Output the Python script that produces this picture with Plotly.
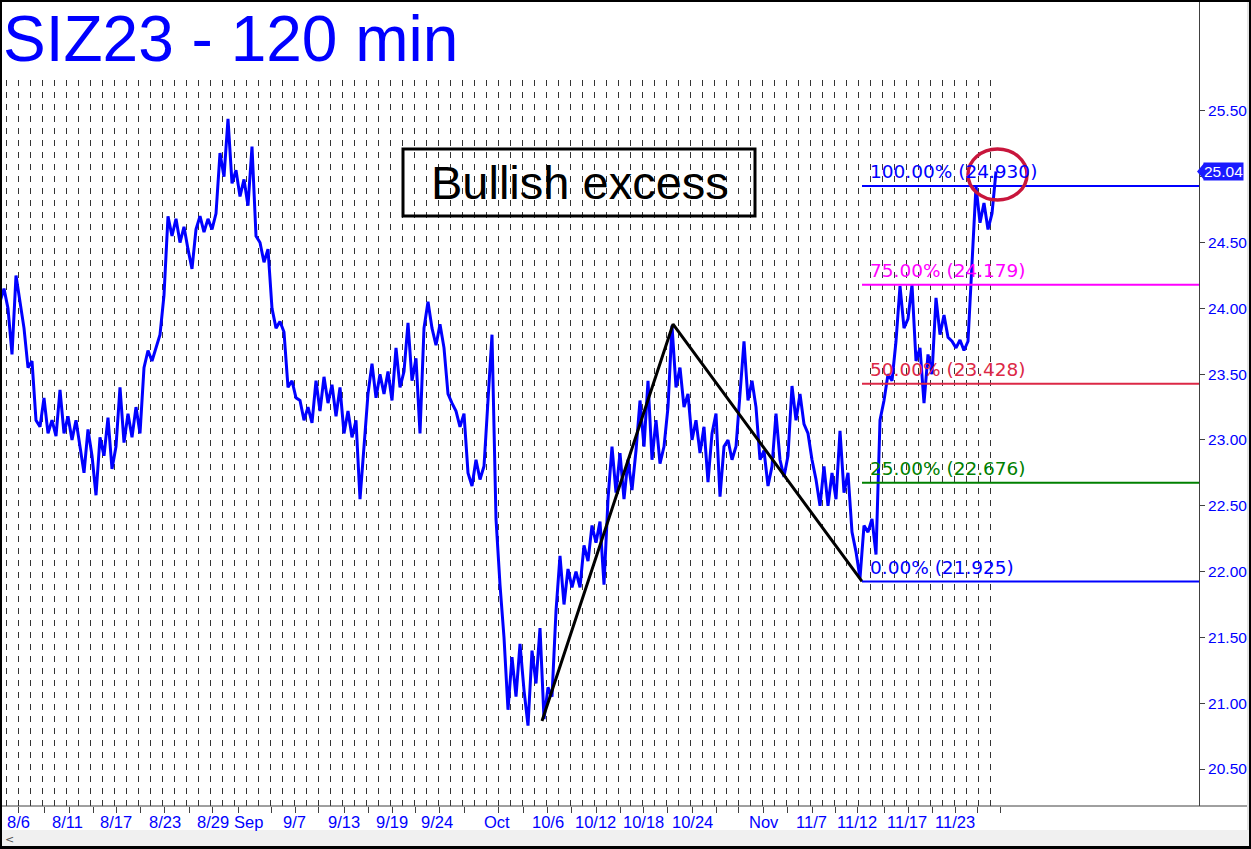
import plotly.graph_objects as go

# ---------------- data ----------------
# 120-min closes sampled every 4 bars, bar index = x
bar_step = 4
prices = [
    24.05, 24.15, 24.00, 23.65, 24.25, 24.05, 23.85, 23.55, 23.60, 23.15,
    23.10, 23.32, 23.05, 23.15, 23.03, 23.38, 23.05, 23.18, 23.00, 23.15,
    22.95, 22.75, 23.08, 22.88, 22.58, 23.02, 22.88, 23.17, 22.78, 22.95,
    23.40, 22.98, 23.20, 23.02, 23.25, 23.05, 23.55, 23.68, 23.60, 23.70,
    23.80, 24.10, 24.70, 24.55, 24.68, 24.50, 24.62, 24.45, 24.30, 24.60,
    24.70, 24.58, 24.68, 24.60, 24.72, 25.18, 25.00, 25.44, 24.95, 25.05,
    24.85, 24.98, 24.78, 25.23, 24.55, 24.50, 24.35, 24.45, 24.00, 23.85,
    23.90, 23.82, 23.40, 23.45, 23.32, 23.30, 23.15, 23.25, 23.13, 23.45,
    23.22, 23.48, 23.28, 23.42, 23.18, 23.40, 23.05, 23.22, 23.02, 23.15,
    22.55, 22.95, 23.35, 23.58, 23.32, 23.50, 23.35, 23.52, 23.30, 23.70,
    23.40, 23.52, 23.89, 23.45, 23.62, 23.05, 23.85, 24.05, 23.85, 23.72,
    23.88, 23.70, 23.35, 23.28, 23.22, 23.10, 23.20, 22.75, 22.65, 22.85,
    22.70, 22.80, 23.30, 23.80, 22.40, 21.90, 21.50, 20.95, 21.35, 21.05,
    21.45, 21.10, 20.83, 21.40, 21.15, 21.57, 20.88, 21.12, 21.05, 21.70,
    22.12, 21.75, 22.02, 21.88, 22.00, 21.88, 22.20, 22.08, 22.35, 22.22,
    22.38, 21.90, 22.55, 22.95, 22.60, 22.90, 22.55, 22.85, 22.62, 22.92,
    23.30, 22.95, 23.45, 22.85, 23.15, 22.82, 22.95, 23.25, 23.87, 23.40,
    23.55, 23.25, 23.35, 23.00, 23.15, 22.90, 23.10, 22.68, 23.05, 23.20,
    22.57, 22.95, 23.00, 22.85, 22.95, 23.35, 23.75, 23.30, 23.45, 23.25,
    22.85, 22.92, 22.65, 22.80, 23.20, 22.85, 22.72, 22.88, 23.41, 23.15,
    23.35, 23.12, 23.05, 22.85, 22.70, 22.50, 22.80, 22.50, 22.75, 22.55,
    23.07, 22.60, 22.75, 22.30, 22.15, 21.95, 22.35, 22.30, 22.40, 22.13,
    23.15, 23.30, 23.50, 23.45, 23.75, 24.17, 23.85, 23.92, 24.18, 23.60,
    23.70, 23.28, 23.65, 23.50, 24.08, 23.80, 23.95, 23.78, 23.75, 23.70,
    23.76, 23.68, 23.75, 24.34, 24.93, 24.65, 24.80, 24.60, 24.72, 25.04,
]
bars = [i * bar_step for i in range(len(prices))]
last_price = 25.04

# ABC pattern (bar index, price)
pattern_x = [542, 673, 862]
pattern_y = [20.865, 23.88, 21.925]

# Fibonacci-style target levels
fib_pct = ["0.00%", "25.00%", "50.00%", "75.00%", "100.00%"]
fib_val = [21.925, 22.676, 23.428, 24.179, 24.930]
fib_col = ["#0000ff", "#008000", "#dc2846", "#ff00ff", "#0000ff"]
fib_start = 862

# x-axis ticks (bar index) and date labels
tick_pos = [18, 44, 69, 93, 116, 140, 164, 189, 212, 238, 271, 295, 318, 344,
            368, 392, 415, 439, 464, 498, 523, 547, 571, 596, 620, 643, 667,
            692, 716, 738, 763, 787, 812, 835, 857, 884, 908, 932, 955, 977, 1000]
label_pos = [18, 67, 116, 165, 213, 248, 294, 344, 392, 437, 497, 548, 595, 643,
             692, 764, 811, 857, 907, 955]
label_txt = ["8/6", "8/11", "8/17", "8/23", "8/29", "Sep", "9/7", "9/13", "9/19",
             "9/24", "Oct", "10/6", "10/12", "10/18", "10/24", "Nov", "11/7",
             "11/12", "11/17", "11/23"]
y_ticks = [20.5, 21.0, 21.5, 22.0, 22.5, 23.0, 23.5, 24.0, 24.5, 25.0, 25.5]
# the 25.00 label sits under the last-price box
y_tick_text = ["20.50", "21.00", "21.50", "22.00", "22.50", "23.00", "23.50",
               "24.00", "24.50", "", "25.50"]

# ---------------- layout helpers ----------------
W, H = 1251, 849
PLOT_R, PLOT_B = 1199, 806
XR = [0, 1199]
YR = [20.219, 26.343]


def pxx(p):
    return p / PLOT_R


def pxy(p):
    return (PLOT_B - p) / PLOT_B


fig = go.Figure()

fig.add_trace(go.Scatter(x=bars, y=prices, mode="lines",
                         line=dict(color="#0000ff", width=3),
                         hoverinfo="skip", showlegend=False))
fig.add_trace(go.Scatter(x=pattern_x, y=pattern_y, mode="lines",
                         line=dict(color="#000000", width=3),
                         hoverinfo="skip", showlegend=False))

shapes = []
# dashed daily grid
g = 6.5
while g <= 991:
    shapes.append(dict(type="line", xref="x", yref="paper", x0=g, x1=g,
                       y0=0, y1=pxy(75), layer="below",
                       line=dict(color="#333333", width=1, dash="6px,6px")))
    g += 12

# fib lines
for v, c in zip(fib_val, fib_col):
    shapes.append(dict(type="line", xref="x", yref="y", x0=fib_start, x1=XR[1],
                       y0=v, y1=v, line=dict(color=c, width=2)))

# bullish excess box
shapes.append(dict(type="rect", xref="x", yref="paper", x0=403, x1=755,
                   y0=pxy(216), y1=pxy(149),
                   line=dict(color="#000000", width=3)))
# red ellipse
shapes.append(dict(type="circle", xref="x", yref="paper", x0=968, x1=1027,
                   y0=pxy(200), y1=pxy(149),
                   line=dict(color="#c8163c", width=3.5)))

# bottom line full width
shapes.append(dict(type="line", xref="paper", yref="paper", x0=0, x1=pxx(1247),
                   y0=0, y1=0, line=dict(color="#404040", width=1)))
# scrollbar and frame
shapes.append(dict(type="rect", xref="paper", yref="paper", x0=0, x1=pxx(1249),
                   y0=pxy(846), y1=pxy(830), fillcolor="#f0f0f0", line_width=0))
shapes.append(dict(type="rect", xref="paper", yref="paper", x0=pxx(1247), x1=pxx(1249),
                   y0=pxy(830), y1=1, fillcolor="#e4e4e4", line_width=0))
for (a, b, c, d) in [(0, 2, 0, H), (1249, W, 0, H), (0, W, 0, 2), (0, W, 846, H)]:
    shapes.append(dict(type="rect", xref="paper", yref="paper", x0=pxx(a), x1=pxx(b),
                       y0=pxy(d), y1=pxy(c), fillcolor="#000000", line_width=0))
# last price pointer
shapes.append(dict(type="path", xref="paper", yref="y",
                   path=f"M {pxx(1197)},{last_price} L {pxx(1204)},{last_price + 0.062} "
                        f"L {pxx(1204)},{last_price - 0.062} Z",
                   fillcolor="#1a1aff", line_width=0))

annotations = []
annotations.append(dict(text="SIZ23 - 120 min", xref="paper", yref="paper",
                        x=pxx(1), y=pxy(39), xanchor="left", yanchor="middle",
                        showarrow=False,
                        font=dict(family="Liberation Sans, Arial", size=64, color="#0000ff")))
annotations.append(dict(text="Bullish excess", xref="x", yref="paper",
                        x=580, y=pxy(183), xanchor="center", yanchor="middle",
                        showarrow=False,
                        font=dict(family="Liberation Sans, Arial", size=47, color="#000000")))
for p, v, c in zip(fib_pct, fib_val, fib_col):
    annotations.append(dict(text=f"{p} ({v:.3f})", xref="x", yref="y",
                            x=868, y=v, xanchor="left", yanchor="middle", yshift=14,
                            showarrow=False,
                            font=dict(family="DejaVu Sans", size=18.5, color=c)))
for xp, t in zip(label_pos, label_txt):
    annotations.append(dict(text=t, xref="x", yref="paper", x=xp, y=pxy(822),
                            xanchor="center", yanchor="middle", showarrow=False,
                            font=dict(family="Liberation Sans, Arial", size=16.5, color="#0000ff")))
annotations.append(dict(text=f"{last_price:.2f}", xref="paper", yref="y",
                        x=pxx(1203), y=last_price, xanchor="left", yanchor="middle",
                        showarrow=False, bgcolor="#1a1aff", borderpad=0,
                        font=dict(family="Liberation Sans, Arial", size=15.5, color="#ffffff")))
annotations.append(dict(text="<", xref="paper", yref="paper", x=pxx(9), y=pxy(839),
                        xanchor="center", yanchor="middle", showarrow=False,
                        font=dict(family="DejaVu Sans", size=11, color="#505050")))

fig.update_layout(
    width=W, height=H,
    margin=dict(l=0, r=W - PLOT_R, t=0, b=H - PLOT_B, pad=0),
    paper_bgcolor="#ffffff", plot_bgcolor="#ffffff",
    showlegend=False,
    shapes=shapes, annotations=annotations,
    xaxis=dict(range=XR, showgrid=False, zeroline=False, automargin=False,
               tickmode="array", tickvals=tick_pos, ticktext=[""] * len(tick_pos),
               ticks="outside", ticklen=6, tickcolor="#404040", tickwidth=1,
               showline=False),
    yaxis=dict(range=YR, side="right", showgrid=False, zeroline=False, automargin=False,
               tickmode="array", tickvals=y_ticks, ticktext=y_tick_text,
               ticks="outside", ticklen=5, tickcolor="#404040",
               showline=True, linecolor="#404040", linewidth=1,
               tickfont=dict(family="Liberation Sans, Arial", size=15.5, color="#0000ff")),
)

fig.write_html("out.html", config={"displayModeBar": False},
               post_script="document.body.style.margin='0';")
